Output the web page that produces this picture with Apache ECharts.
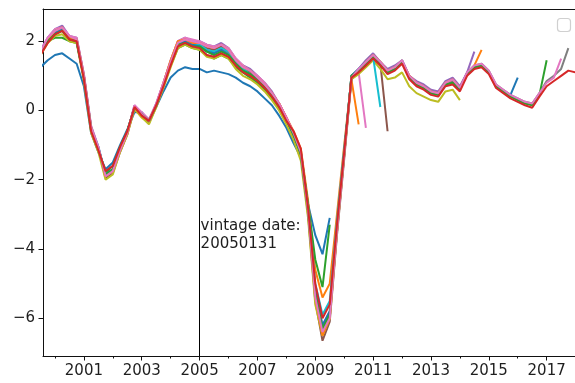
<!DOCTYPE html>
<html>
<head>
<meta charset="utf-8">
<script src="https://cdn.jsdelivr.net/npm/echarts@6/dist/echarts.min.js"></script>
<style>html,body{margin:0;padding:0;background:#fff}#c{width:575px;height:383px}</style>
</head>
<body>
<div id="c"></div>
<script>
// x positions (decimal years, quarterly)
const DATES = [1999.5,1999.75,2000,2000.25,2000.5,2000.75,2001,2001.25,2001.5,2001.75,2002,2002.25,2002.5,2002.75,2003,2003.25,2003.5,2003.75,2004,2004.25,2004.5,2004.75,2005,2005.25,2005.5,2005.75,2006,2006.25,2006.5,2006.75,2007,2007.25,2007.5,2007.75,2008,2008.25,2008.5,2008.75,2009,2009.25,2009.5,2009.75,2010,2010.25,2010.5,2010.75,2011,2011.25,2011.5,2011.75,2012,2012.25,2012.5,2012.75,2013,2013.25,2013.5,2013.75,2014,2014.25,2014.5,2014.75,2015,2015.25,2015.5,2015.75,2016,2016.25,2016.5,2016.75,2017,2017.25,2017.5,2017.75,2018];

// vintages
const V_BLUE = [1.25,1.45,1.6,1.65,1.5,1.35,0.7,-0.65,-1.2,-1.7,-1.5,-1.0,-0.55,-0.05,-0.05,-0.3,0.1,0.55,0.95,1.15,1.25,1.2,1.2,1.1,1.15,1.1,1.05,0.95,0.8,0.7,0.55,0.35,0.15,-0.15,-0.5,-0.95,-1.35,-2.7,-3.6,-4.15,-3.1];
const V_ORANGE = [1.7,2.05,2.3,2.35,2.1,2.05,1.0,-0.5,-1.1,-1.85,-1.7,-1.1,-0.65,0.05,-0.2,-0.35,0.1,0.75,1.4,1.95,2.05,1.95,1.95,1.85,1.8,1.85,1.75,1.45,1.3,1.15,0.95,0.75,0.5,0.2,-0.2,-0.6,-1.1,-2.6,-4.6,-5.4,-5.0,-3.0,-1.0,0.9,-0.4];
const V_GREEN = [1.7,2.0,2.1,2.1,2.0,1.95,0.95,-0.55,-1.1,-1.8,-1.6,-1.05,-0.6,0.1,-0.1,-0.3,0.15,0.7,1.3,1.8,1.9,1.8,1.75,1.6,1.5,1.6,1.5,1.25,1.1,0.95,0.8,0.6,0.35,0.05,-0.3,-0.7,-1.2,-2.7,-4.3,-5.1,-3.3];
const V_PURPLE = [1.75,2.1,2.35,2.45,2.15,2.1,1.05,-0.45,-1.05,-1.9,-1.75,-1.15,-0.65,0.15,-0.1,-0.3,0.2,0.8,1.45,2.0,2.1,2.0,2.0,1.9,1.85,1.95,1.8,1.5,1.3,1.2,1.0,0.8,0.55,0.2,-0.2,-0.65,-1.2,-2.9,-5.3,-6.3,-5.9,-3.5,-1.3,0.95,1.2,1.45,1.65,1.4,1.2,1.3,1.45,1.0,0.85,0.75,0.6,0.55,0.85,0.95,0.7,1.1,1.7];
const V_BROWN = [1.7,2.05,2.3,2.4,2.1,2.05,1.0,-0.5,-1.1,-1.95,-1.8,-1.2,-0.7,0.1,-0.15,-0.35,0.15,0.75,1.4,1.95,2.05,1.95,1.9,1.8,1.75,1.85,1.7,1.45,1.25,1.1,0.95,0.75,0.5,0.15,-0.25,-0.75,-1.3,-3.0,-5.5,-6.65,-6.1,-3.6,-1.4,0.9,1.15,1.35,1.6,1.35,-0.6];
const V_PINK = [1.7,2.1,2.35,2.4,2.15,2.1,1.05,-0.45,-1.05,-1.9,-1.75,-1.1,-0.65,0.15,-0.05,-0.25,0.2,0.8,1.45,2.0,2.1,2.05,2.0,1.9,1.85,1.9,1.8,1.5,1.3,1.15,1.0,0.8,0.5,0.2,-0.2,-0.65,-1.2,-2.9,-5.2,-6.2,-5.8,-3.4,-1.2,0.9,1.1,-0.5];
const V_GRAY = [1.65,2.0,2.25,2.35,2.1,2.05,0.95,-0.55,-1.1,-1.85,-1.7,-1.1,-0.6,0.1,-0.1,-0.3,0.15,0.75,1.4,1.95,2.0,1.9,1.9,1.75,1.7,1.8,1.65,1.4,1.2,1.05,0.9,0.7,0.45,0.15,-0.25,-0.7,-1.25,-2.9,-5.3,-6.4,-5.9,-3.4,-1.25,1.0,1.2,1.4,1.6,1.4,1.15,1.25,1.45,1.0,0.8,0.7,0.55,0.5,0.8,0.85,0.65,1.1,1.3,1.35,1.15,0.75,0.6,0.45,0.35,0.25,0.2,0.5,0.85,1.0,1.2,1.8];
const V_OLIVE = [1.6,1.95,2.15,2.2,2.0,1.95,0.85,-0.65,-1.2,-2.0,-1.85,-1.2,-0.7,0.05,-0.2,-0.4,0.1,0.65,1.25,1.8,1.9,1.8,1.75,1.55,1.5,1.6,1.5,1.2,1.0,0.9,0.75,0.55,0.3,0.0,-0.4,-0.85,-1.45,-3.1,-5.6,-6.5,-6.0,-3.5,-1.3,0.9,1.05,1.25,1.45,1.2,0.9,0.95,1.1,0.7,0.5,0.4,0.3,0.25,0.55,0.6,0.3];
const V_CYAN = [1.7,2.05,2.3,2.35,2.1,2.0,0.95,-0.5,-1.05,-1.85,-1.7,-1.1,-0.6,0.1,-0.1,-0.3,0.15,0.75,1.4,1.9,2.0,1.9,1.9,1.75,1.7,1.8,1.7,1.4,1.2,1.05,0.9,0.7,0.45,0.15,-0.25,-0.65,-1.2,-2.8,-5.0,-5.9,-5.5,-3.2,-1.1,0.95,1.15,1.35,1.55,0.1];
const V_BLUE2 = [1.65,2.0,2.25,2.35,2.1,2.0,0.95,-0.55,-1.1,-1.85,-1.7,-1.1,-0.6,0.1,-0.1,-0.3,0.15,0.75,1.35,1.9,2.0,1.9,1.85,1.7,1.65,1.75,1.6,1.35,1.15,1.05,0.9,0.7,0.45,0.15,-0.25,-0.7,-1.25,-2.9,-5.2,-6.2,-5.8,-3.4,-1.25,1.0,1.2,1.4,1.6,1.35,1.1,1.2,1.4,0.95,0.75,0.65,0.5,0.45,0.75,0.8,0.6,1.05,1.25,1.3,1.1,0.7,0.55,0.45,0.95];
const V_ORANGE2 = [1.7,2.05,2.3,2.4,2.1,2.05,1.0,-0.5,-1.1,-1.9,-1.75,-1.15,-0.65,0.1,-0.15,-0.3,0.15,0.8,1.45,2.0,2.05,1.95,1.95,1.85,1.8,1.9,1.75,1.45,1.25,1.15,0.95,0.75,0.5,0.2,-0.2,-0.65,-1.2,-2.9,-5.4,-6.5,-6.0,-3.5,-1.3,0.95,1.15,1.4,1.6,1.4,1.15,1.25,1.4,1.0,0.8,0.7,0.55,0.5,0.8,0.9,0.65,1.05,1.3,1.75];
const V_GREEN2 = [1.7,2.0,2.2,2.3,2.05,2.0,0.95,-0.55,-1.1,-1.85,-1.7,-1.1,-0.6,0.1,-0.1,-0.3,0.15,0.75,1.35,1.9,1.95,1.85,1.85,1.7,1.6,1.7,1.6,1.35,1.15,1.05,0.9,0.7,0.45,0.15,-0.25,-0.7,-1.25,-2.9,-5.3,-6.3,-5.9,-3.4,-1.25,1.0,1.15,1.35,1.55,1.35,1.1,1.2,1.4,0.95,0.75,0.65,0.5,0.45,0.75,0.8,0.6,1.05,1.25,1.3,1.1,0.7,0.55,0.4,0.3,0.2,0.15,0.45,1.45];
const V_PINK2 = [1.7,2.1,2.3,2.4,2.15,2.05,1.0,-0.5,-1.05,-1.9,-1.75,-1.15,-0.65,0.15,-0.1,-0.3,0.2,0.8,1.4,1.95,2.05,2.0,1.95,1.85,1.8,1.9,1.75,1.45,1.25,1.15,0.95,0.75,0.5,0.2,-0.2,-0.65,-1.2,-2.9,-5.4,-6.4,-6.0,-3.5,-1.3,0.95,1.2,1.4,1.6,1.4,1.15,1.25,1.45,1.0,0.8,0.7,0.55,0.5,0.8,0.9,0.65,1.1,1.3,1.35,1.15,0.75,0.6,0.45,0.35,0.25,0.2,0.5,0.8,0.95,1.5];
const V_LATEST = [1.6,1.95,2.2,2.3,2.05,2.0,0.9,-0.6,-1.15,-1.75,-1.6,-1.05,-0.6,0.1,-0.15,-0.3,0.15,0.7,1.3,1.85,1.95,1.85,1.8,1.6,1.55,1.65,1.55,1.3,1.1,1.0,0.85,0.65,0.4,0.1,-0.3,-0.6,-1.1,-2.8,-5.0,-6.0,-5.6,-3.3,-1.2,0.95,1.1,1.3,1.5,1.3,1.05,1.15,1.35,0.9,0.7,0.6,0.45,0.4,0.7,0.75,0.55,1.0,1.2,1.25,1.05,0.65,0.5,0.35,0.25,0.15,0.08,0.4,0.7,0.85,1.0,1.15,1.1];

const X_TICKS = [2001,2003,2005,2007,2009,2011,2013,2015,2017];
const X_MINOR = [2000,2002,2004,2006,2008,2010,2012,2014,2016];
const Y_TICKS = [-6,-4,-2,0,2];
const VINTAGE_X = 2005;
const VINTAGE_TEXT = 'vintage date:\n20050131';

const LINES = [
  [V_BLUE,'#1f77b4'],[V_ORANGE,'#ff7f0e'],[V_GREEN,'#2ca02c'],[V_PURPLE,'#9467bd'],
  [V_BROWN,'#8c564b'],[V_PINK,'#e377c2'],[V_GRAY,'#7f7f7f'],[V_OLIVE,'#bcbd22'],
  [V_CYAN,'#17becf'],[V_BLUE2,'#1f77b4'],[V_ORANGE2,'#ff7f0e'],[V_GREEN2,'#2ca02c'],
  [V_PINK2,'#e377c2'],[V_LATEST,'#d62728']
];

const XMIN = 1999.586, XMAX = 2017.98, YMIN = -7.09, YMAX = 2.93;
const FONT = 'DejaVu Sans';
const TXT = '#1e1e1e';
const SPINE = '#111';

const series = LINES.map(([vals, col], i) => ({
  type: 'line', xAxisIndex: 0, yAxisIndex: 0,
  data: vals.map((v, j) => [DATES[j], v]),
  showSymbol: false, symbol: 'none', clip: true,
  lineStyle: { color: col, width: 2 }, itemStyle: { color: col },
  z: 2 + i
}));
series.push({
  type: 'line', xAxisIndex: 0, yAxisIndex: 0, data: [], symbol: 'none',
  markLine: { silent: true, symbol: ['none','none'], label: { show: false },
    lineStyle: { color: '#000', width: 1, type: 'solid' },
    data: [{ xAxis: VINTAGE_X }] },
  z: 30
});

const G = { left: 43, right: 0, top: 9, bottom: 27 };
const chart = echarts.init(document.getElementById('c'), null, { renderer: 'canvas' });
chart.setOption({
  animation: false,
  backgroundColor: '#fff',
  grid: [
    Object.assign({ show: false }, G),
    Object.assign({ show: false }, G),
    Object.assign({ show: false }, G)
  ],
  xAxis: [
    { type: 'value', gridIndex: 0, min: XMIN, max: XMAX, position: 'bottom',
      axisLine: { show: true, onZero: false, lineStyle: { color: SPINE, width: 1 } },
      axisTick: { show: true, length: 4.5, customValues: X_TICKS, lineStyle: { color: SPINE } },
      axisLabel: { customValues: X_TICKS, formatter: v => String(v), fontFamily: FONT, fontSize: 15, color: TXT, margin: 8 },
      splitLine: { show: false } },
    { type: 'value', gridIndex: 1, min: XMIN, max: XMAX, position: 'bottom',
      axisLine: { show: false, onZero: false },
      axisTick: { show: true, length: 2.5, customValues: X_MINOR, lineStyle: { color: SPINE } },
      axisLabel: { show: false }, splitLine: { show: false } },
    { type: 'value', gridIndex: 2, min: XMIN, max: XMAX, position: 'top',
      axisLine: { show: true, onZero: false, lineStyle: { color: SPINE, width: 1 } },
      axisTick: { show: false }, axisLabel: { show: false }, splitLine: { show: false } }
  ],
  yAxis: [
    { type: 'value', gridIndex: 0, min: YMIN, max: YMAX,
      axisLine: { show: true, onZero: false, lineStyle: { color: SPINE, width: 1 } },
      axisTick: { show: true, length: 4.5, customValues: Y_TICKS, lineStyle: { color: SPINE } },
      axisLabel: { customValues: Y_TICKS, formatter: v => (v < 0 ? '\u2212' + Math.abs(v) : String(v)), fontFamily: FONT, fontSize: 15, color: TXT, margin: 8 },
      splitLine: { show: false } },
    { type: 'value', gridIndex: 1, min: YMIN, max: YMAX, show: false, splitLine: { show: false } },
    { type: 'value', gridIndex: 2, min: YMIN, max: YMAX, show: false, splitLine: { show: false } }
  ],
  series: series
});

const p = chart.convertToPixel({ xAxisIndex: 0, yAxisIndex: 0 }, [VINTAGE_X, -4]);
chart.setOption({
  graphic: [
    { type: 'text', x: p[0] + 1, y: p[1] - 31.5, z: 100,
      style: { text: VINTAGE_TEXT, font: '15px "DejaVu Sans"', fill: TXT, lineHeight: 18, textAlign: 'left', textVerticalAlign: 'top' } },
    { type: 'rect', shape: { x: 557.5, y: 18.5, width: 13, height: 13, r: 3 }, z: 100,
      style: { fill: 'rgba(255,255,255,0.8)', stroke: '#d0d0d0', lineWidth: 1.2 } }
  ]
});
</script>
</body>
</html>
